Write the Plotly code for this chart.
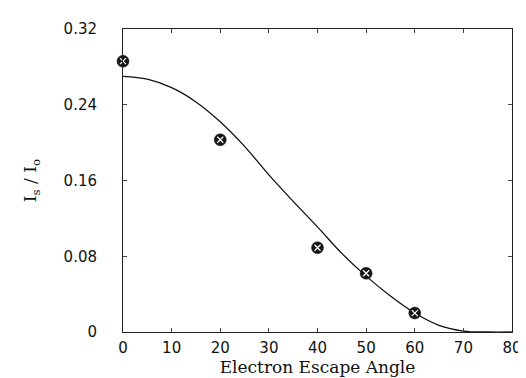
import plotly.graph_objects as go

# Measured data points (angle, Is/Io)
pt_angle = [0, 20, 40, 50, 60]
pt_ratio = [0.286, 0.203, 0.089, 0.062, 0.020]

# Fitted curve
fit_angle = [0, 5, 10, 15, 20, 25, 30, 35, 40, 45, 50, 55, 60, 65, 70, 75, 80]
fit_ratio = [0.270, 0.267, 0.258, 0.243, 0.222, 0.196, 0.166, 0.138, 0.111, 0.083, 0.059, 0.038, 0.020, 0.007, 0.001, 0.0, 0.0]

x_ticks = [0, 10, 20, 30, 40, 50, 60, 70, 80]
y_ticks = [0, 0.08, 0.16, 0.24, 0.32]
y_ticktext = ["0", "0.08", "0.16", "0.24", "0.32"]

fig = go.Figure()
fig.add_trace(go.Scatter(x=fit_angle, y=fit_ratio, mode="lines",
                         line=dict(color="#111", width=1.3, shape="spline"),
                         hoverinfo="skip", cliponaxis=False))
fig.add_trace(go.Scatter(x=pt_angle, y=pt_ratio, mode="markers", cliponaxis=False,
                         marker=dict(symbol="circle", size=12, color="#151515",
                                     line=dict(color="#151515", width=0.5))))
fig.add_trace(go.Scatter(x=pt_angle, y=pt_ratio, mode="markers", cliponaxis=False,
                         marker=dict(symbol="x-thin-open", size=6, color="white",
                                     line=dict(color="white", width=1.2))))

tick_font = dict(family="DejaVu Sans", size=15, color="#111")
title_font = dict(family="DejaVu Serif", size=17, color="#111")
fig.update_layout(
    width=526, height=378,
    margin=dict(l=115, r=18, t=20, b=54),
    paper_bgcolor="white", plot_bgcolor="white",
    showlegend=False,
    xaxis=dict(range=[0, 80], tickvals=x_ticks, ticks="inside", ticklen=4,
               showline=True, mirror="ticks", linecolor="#222", linewidth=1,
               showgrid=False, zeroline=False, tickfont=tick_font,
               ticklabelstandoff=2,
               title=dict(text="Electron Escape Angle", standoff=2, font=title_font)),
    yaxis=dict(range=[0, 0.32], tickvals=y_ticks, ticktext=y_ticktext,
               ticks="inside", ticklen=4, ticklabelstandoff=22,
               showline=True, mirror="ticks", linecolor="#222", linewidth=1,
               showgrid=False, zeroline=False, tickfont=tick_font,
               title=dict(text="I<sub>s</sub> / I<sub>o</sub>", standoff=22,
                          font=title_font)),
)
fig.write_html("out.html")
